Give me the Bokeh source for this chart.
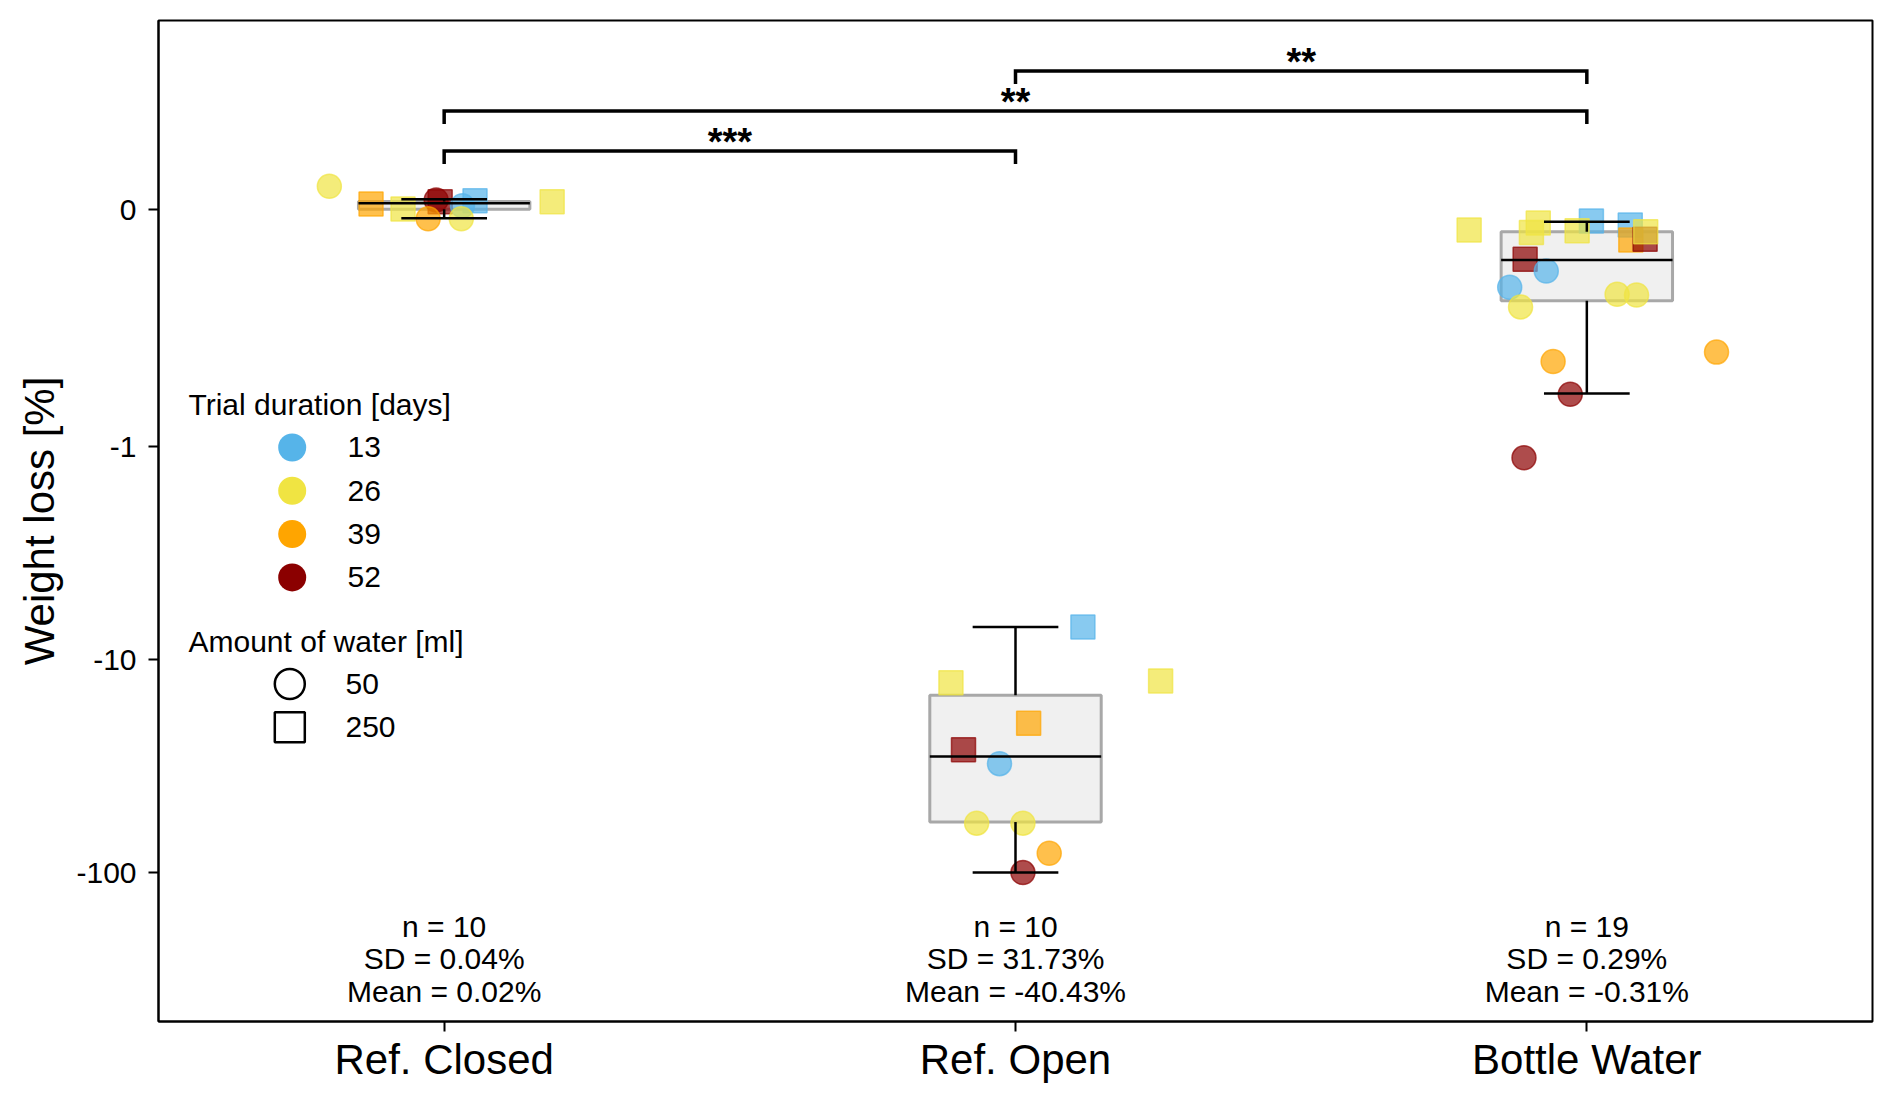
import math
from bokeh.plotting import figure
from bokeh.models import ColumnDataSource, FixedTicker, Range1d, CustomJSTickFormatter
from bokeh.core.properties import value
from bokeh.embed import file_html
from bokeh.resources import INLINE

FONT = "Liberation Sans"

# ---------------- data ----------------
categories = ["Ref. Closed", "Ref. Open", "Bottle Water"]

# Ref. Closed
closed_jitter = [-0.201, -0.128, -0.072, -0.014, -0.007, 0.054, 0.032, -0.028, 0.030, 0.189]
closed_loss = [0.10, 0.025, 0.004, 0.042, 0.034, 0.038, 0.017, -0.038, -0.038, 0.034]
closed_days = [26, 39, 26, 52, 52, 13, 13, 39, 26, 26]
closed_water = [50, 250, 250, 50, 250, 250, 50, 50, 50, 250]

# Ref. Open
open_jitter = [0.118, -0.113, 0.254, 0.023, -0.091, -0.028, -0.068, 0.013, 0.059, 0.013]
open_loss = [-7.03, -12.85, -12.6, -19.9, -26.5, -30.8, -58.6, -58.6, -81.1, -100.0]
open_days = [13, 26, 26, 39, 52, 13, 26, 26, 39, 52]
open_water = [250, 250, 250, 250, 250, 50, 50, 50, 50, 50]

# Bottle Water
bottle_jitter = [-0.206, -0.085, -0.097, 0.008, -0.017, 0.076, 0.077, 0.102, 0.103, -0.108,
                 -0.071, -0.135, -0.116, 0.053, 0.087, -0.059, 0.227, -0.029, -0.110]
bottle_loss = [-0.085, -0.056, -0.096, -0.047, -0.088, -0.064, -0.127, -0.124, -0.092, -0.209,
               -0.258, -0.327, -0.41, -0.357, -0.36, -0.641, -0.601, -0.779, -1.13]
bottle_days = [26, 26, 26, 13, 26, 13, 39, 52, 26, 52,
               13, 13, 26, 26, 26, 39, 39, 52, 52]
bottle_water = [250, 250, 250, 250, 250, 250, 250, 250, 250, 250,
                50, 50, 50, 50, 50, 50, 50, 50, 50]

# box plot statistics
box_whislo = [-0.035, -100.0, -0.776]
box_q1 = [0.003, -57.9, -0.384]
box_median = [0.028, -28.5, -0.212]
box_q3 = [0.035, -14.7, -0.092]
box_whishi = [0.045, -7.03, -0.050]

stats_n = ["n = 10", "n = 10", "n = 19"]
stats_sd = ["SD = 0.04%", "SD = 31.73%", "SD = 0.29%"]
stats_mean = ["Mean = 0.02%", "Mean = -40.43%", "Mean = -0.31%"]

sig_from = [0, 0, 1]
sig_to = [1, 2, 2]
sig_text = ["***", "**", "**"]

durations = [13, 26, 39, 52]
duration_colors = ["#56B4E9", "#F0E442", "#FFA500", "#8B0000"]
water_amounts = [50, 250]
water_markers = ["circle", "square"]

y_ticks = [0, -1, -10, -100]
y_limits = (-500, 0.8)


# ---------------- helpers ----------------
def symlog(v, linthresh=1.0, base=10.0, linscale=1.0):
    a = linscale / (1.0 - 1.0 / base)
    if abs(v) <= linthresh:
        return v * a
    return math.copysign(linthresh * (a + math.log(abs(v) / linthresh, base)), v)


T_TOP = symlog(y_limits[1])
T_BOT = symlog(y_limits[0])

# frame placement in the reference image (pixels), used for annotation layout
FR_L, FR_R, FR_T, FR_B = 158.0, 1872.0, 19.5, 1021.0
X0, X1 = -0.5, 2.5


def px_x(px):
    return X0 + (px - FR_L) / (FR_R - FR_L) * (X1 - X0)


def px_y(py):
    return T_TOP - (py - FR_T) / (FR_B - FR_T) * (T_TOP - T_BOT)


color_of = dict(zip(durations, duration_colors))
marker_of = dict(zip(water_amounts, water_markers))

xs, ys, cs, ms = [], [], [], []
groups = [
    (closed_jitter, closed_loss, closed_days, closed_water),
    (open_jitter, open_loss, open_days, open_water),
    (bottle_jitter, bottle_loss, bottle_days, bottle_water),
]
for gi, (jit, loss, days, water) in enumerate(groups):
    for j, l, d, w in zip(jit, loss, days, water):
        xs.append(gi + j)
        ys.append(symlog(l))
        cs.append(color_of[d])
        ms.append(marker_of[w])
pts = ColumnDataSource(dict(x=xs, y=ys, c=cs, m=ms))

# ---------------- figure ----------------
p = figure(frame_width=1714, frame_height=1001,
           x_range=Range1d(X0, X1), y_range=Range1d(T_BOT, T_TOP),
           output_backend="svg", toolbar_location=None,
           min_border_left=158, min_border_right=12, min_border_top=20, min_border_bottom=70)
p.grid.visible = False
p.outline_line_color = "black"
p.outline_line_width = 2
p.background_fill_color = "white"
p.border_fill_color = "white"

p.xaxis.ticker = FixedTicker(ticks=[0, 1, 2])
p.xaxis.major_label_overrides = {i: c for i, c in enumerate(categories)}
p.xaxis.major_label_text_font_size = "42px"
p.xaxis.major_label_standoff = 4

p.yaxis.ticker = FixedTicker(ticks=[symlog(v) for v in y_ticks])
p.yaxis.formatter = CustomJSTickFormatter(code="""
const a = 1 / (1 - 1 / 10);
let v;
if (Math.abs(tick) <= a) { v = tick / a; } else { v = Math.sign(tick) * Math.pow(10, Math.abs(tick) - a); }
v = Math.round(v);
return (v === 0) ? "0" : String(v);
""")
p.yaxis.major_label_text_font_size = "30px"
p.yaxis.major_label_standoff = 12
p.yaxis.axis_label = "Weight loss [%]"
p.yaxis.axis_label_text_font_size = "42px"
p.yaxis.axis_label_text_font_style = "normal"
p.yaxis.axis_label_text_color = "black"
p.yaxis.axis_label_standoff = 10

for ax in (p.xaxis, p.yaxis):
    ax.axis_line_width = 2
    ax.axis_line_color = "black"
    ax.major_tick_line_width = 2
    ax.major_tick_out = 10
    ax.major_tick_in = 0
    ax.minor_tick_out = 0
    ax.minor_tick_in = 0
    ax.major_label_text_font = FONT
    ax.axis_label_text_font = FONT
    ax.major_label_text_color = "black"

# ---------------- boxes ----------------
BOX_HALF = 0.15
CAP_HALF = 0.075
cat_x = list(range(len(categories)))
box_src = ColumnDataSource(dict(
    left=[c - BOX_HALF for c in cat_x], right=[c + BOX_HALF for c in cat_x],
    top=[symlog(v) for v in box_q3], bottom=[symlog(v) for v in box_q1]))
p.quad(left="left", right="right", top="top", bottom="bottom", source=box_src,
       fill_color="#F0F0F0", line_color="#A8A8A8", line_width=3)

# ---------------- points ----------------
p.scatter(x="x", y="y", marker="m", size=24, source=pts,
          fill_color="c", fill_alpha=0.7, line_color="c", line_alpha=0.7, line_width=1.5)

# ---------------- whiskers / medians ----------------
seg_x0, seg_y0, seg_x1, seg_y1 = [], [], [], []
for c, lo, q1, md, q3, hi in zip(cat_x, box_whislo, box_q1, box_median, box_q3, box_whishi):
    # median
    seg_x0.append(c - BOX_HALF); seg_x1.append(c + BOX_HALF)
    seg_y0.append(symlog(md)); seg_y1.append(symlog(md))
    # whiskers
    seg_x0 += [c, c]; seg_x1 += [c, c]
    seg_y0 += [symlog(q3), symlog(q1)]; seg_y1 += [symlog(hi), symlog(lo)]
    # caps
    seg_x0 += [c - CAP_HALF, c - CAP_HALF]; seg_x1 += [c + CAP_HALF, c + CAP_HALF]
    seg_y0 += [symlog(hi), symlog(lo)]; seg_y1 += [symlog(hi), symlog(lo)]
p.segment(x0=seg_x0, y0=seg_y0, x1=seg_x1, y1=seg_y1, line_color="black", line_width=2.5)

# ---------------- significance brackets ----------------
bracket_px = [150.0, 110.0, 70.0]   # vertical placement of the brackets (layout)
DROP_PX = 13.0
bx, by = [], []
for a, b, ypx in zip(sig_from, sig_to, bracket_px):
    top = px_y(ypx)
    low = px_y(ypx + DROP_PX)
    bx.append([a, a, b, b])
    by.append([low, top, top, low])
p.multi_line(xs=bx, ys=by, line_color="black", line_width=3.5, line_join="miter")
p.text(x=[(a + b) / 2 for a, b in zip(sig_from, sig_to)],
       y=[px_y(v - 9) for v in bracket_px], text=sig_text,
       text_align="center", text_baseline="alphabetic",
       text_font=value(FONT), text_font_size="38px", text_font_style="bold",
       text_color="black")

# ---------------- statistics text ----------------
for rows, ypx in ((stats_n, 925.5), (stats_sd, 958.0), (stats_mean, 990.5)):
    p.text(x=cat_x, y=[px_y(ypx)] * len(cat_x), text=rows,
           text_align="center", text_baseline="middle",
           text_font=value(FONT), text_font_size="30px", text_color="black")

# ---------------- legend (drawn by hand) ----------------
p.text(x=[px_x(188)], y=[px_y(404)], text=["Trial duration [days]"],
       text_align="left", text_baseline="middle",
       text_font=value(FONT), text_font_size="30px", text_color="black")
leg_rows = [446.7, 490.0, 533.3, 576.7]
p.scatter(x=[px_x(291.7)] * len(durations), y=[px_y(v) for v in leg_rows],
          marker="circle", size=28, fill_color=duration_colors, line_color=duration_colors,
          line_width=0)
p.text(x=[px_x(347)] * len(durations), y=[px_y(v) for v in leg_rows],
       text=[str(d) for d in durations], text_align="left", text_baseline="middle",
       text_font=value(FONT), text_font_size="30px", text_color="black")

p.text(x=[px_x(188)], y=[px_y(641)], text=["Amount of water [ml]"],
       text_align="left", text_baseline="middle",
       text_font=value(FONT), text_font_size="30px", text_color="black")
water_rows = [683.3, 726.7]
p.scatter(x=[px_x(289.3)] * len(water_amounts), y=[px_y(v) for v in water_rows],
          marker=water_markers, size=30, fill_color=None, line_color="black", line_width=2.5)
p.text(x=[px_x(345)] * len(water_amounts), y=[px_y(v) for v in water_rows],
       text=[str(w) for w in water_amounts], text_align="left", text_baseline="middle",
       text_font=value(FONT), text_font_size="30px", text_color="black")

open("out.html", "w").write(file_html(p, INLINE))
